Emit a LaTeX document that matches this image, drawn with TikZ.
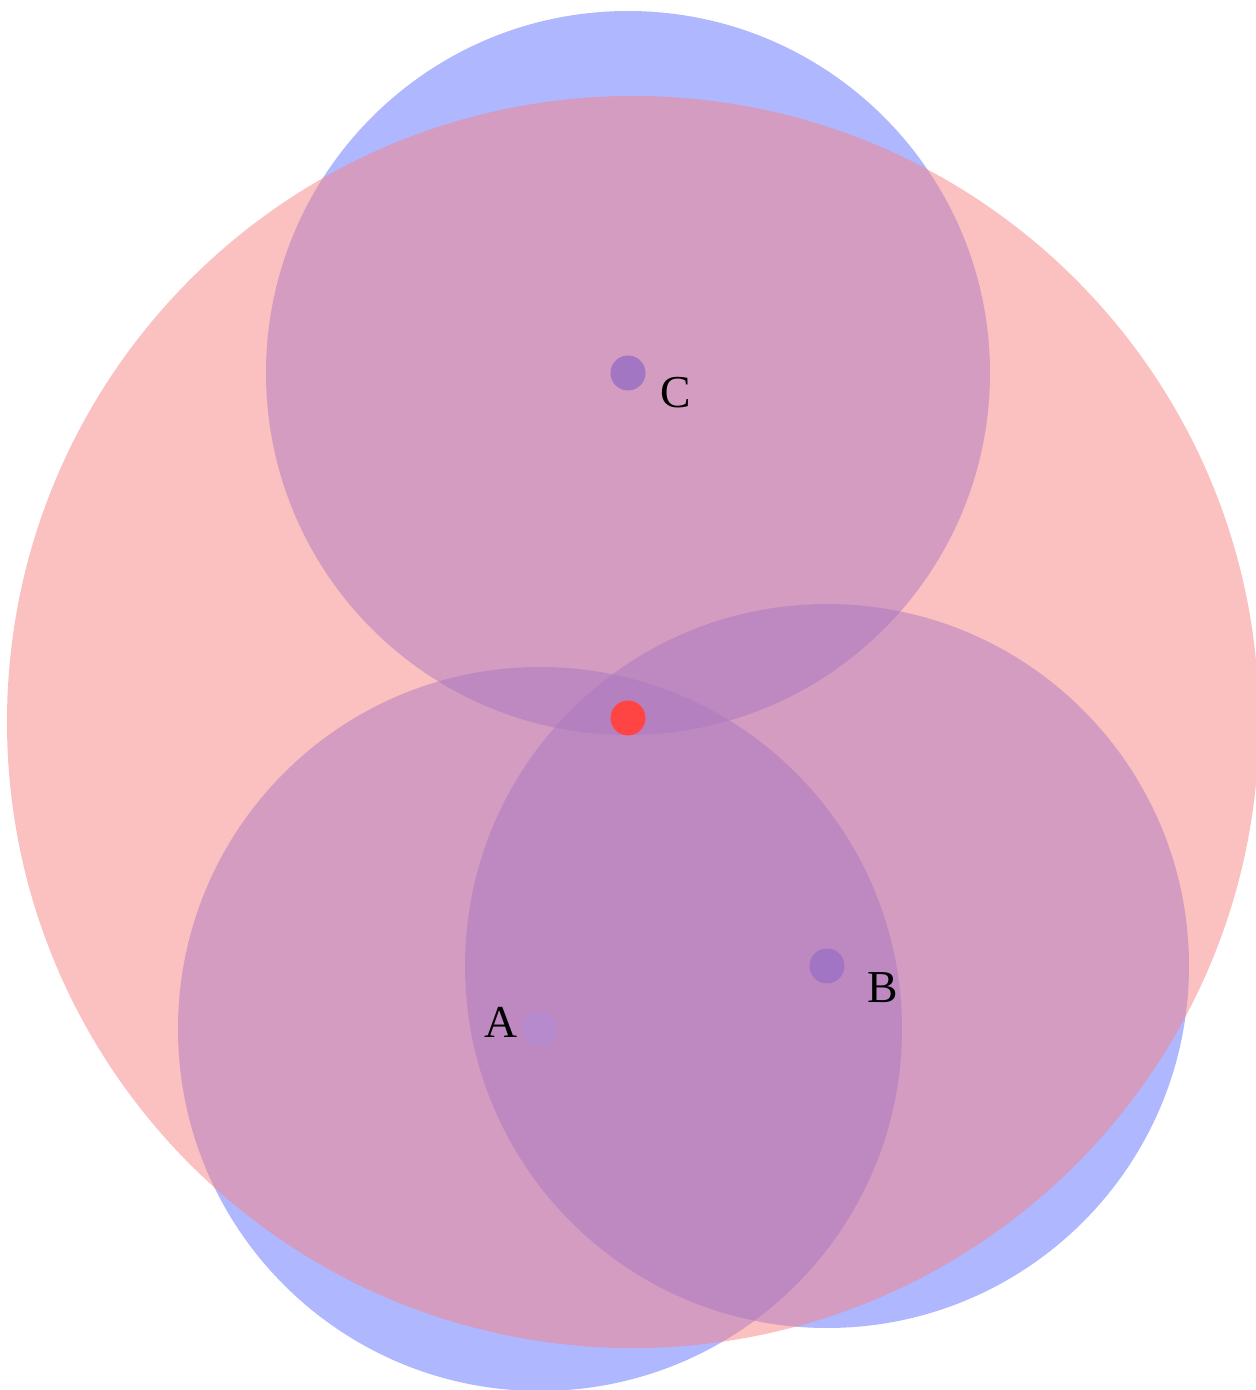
\documentclass[tikz,border=0pt]{standalone}
\usepackage{fontspec}
\setmainfont{Liberation Serif}
\usepackage{xcolor}
\usepackage{tikz}
\usetikzlibrary{positioning}

\definecolor{rangeblue}{RGB}{95,111,255}
\definecolor{rangepink}{RGB}{247,129,129}
\definecolor{beaconC}{RGB}{163,118,196}
\definecolor{beaconB}{RGB}{162,117,196}
\definecolor{beaconA}{RGB}{182,138,204}
\definecolor{target}{RGB}{255,68,68}

\begin{document}
\begin{tikzpicture}
  \tikzstyle{rangedisk} = [draw=none, fill=rangeblue, fill opacity=0.5]
  \tikzstyle{bounddisk} = [draw=none, fill=rangepink, fill opacity=0.5]
  \tikzstyle{beacon} = [circle, inner sep=0pt, minimum size=0.35cm]
  \tikzstyle{beaconlabel} = [font=\fontsize{13}{15}\selectfont, inner sep=0pt]

  \useasboundingbox (0,0) rectangle (12.56,13.9);

  % ranges around the three beacons
  \fill[rangedisk] (6.28,10.17) circle (3.62);
  \fill[rangedisk] (5.40,3.61) circle (3.62);
  \fill[rangedisk] (8.27,4.24) circle (3.62);
  % outer bound
  \fill[bounddisk] (6.33,6.68) circle (6.26);

  \node[beacon, fill=beaconC] (c) at (6.28,10.17) {};
  \node[beacon, fill=beaconB] (b) at (8.27,4.24) {};
  \node[beacon, fill=beaconA] (a) at (5.40,3.61) {};
  \node[beacon, fill=target] (t) at (6.28,6.72) {};

  \node[beaconlabel] (lc) at (6.76,9.97) {C};
  \node[beaconlabel] (lb) at (8.83,4.02) {B};
  \node[beaconlabel] (la) at (5.01,3.68) {A};
\end{tikzpicture}
\end{document}
